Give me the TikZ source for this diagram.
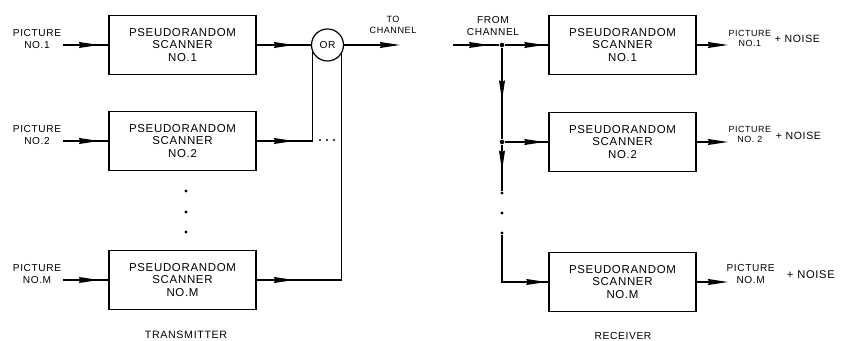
\documentclass[tikz,border=0pt]{standalone}
\usepackage{fontspec}
\setmainfont[LetterSpace=6]{Liberation Sans}
\usetikzlibrary{arrows.meta,decorations.markings}
\tikzset{
  ar/.style={postaction={decorate},decoration={markings,mark=at position #1 with {\arrow{Stealth[length=15pt,width=4.4pt,inset=1pt]}}}},
  tipar/.style={-{Stealth[length=15pt,width=4.4pt,inset=1pt]}},
  box/.style={draw,line width=1pt,minimum width=110.25pt,minimum height=44.25pt,align=center,inner sep=0pt,font=\fontsize{8.6}{9.4}\selectfont},
  lbl/.style={align=center,inner sep=1pt,font=\fontsize{7.6}{8.6}\selectfont},
  sm/.style={align=center,inner sep=0pt,font=\fontsize{6.7}{7.4}\selectfont},
  dot/.style={circle,fill,inner sep=0pt,minimum size=2.6pt},
  jn/.style={circle,fill,inner sep=0pt,minimum size=3.4pt}
}
\begin{document}
\begin{tikzpicture}[x=0.75pt,y=-0.75pt,line width=0.9pt]
\useasboundingbox (0,0) rectangle (841,341);
% transmitter
\node[box] (t1) at (182.5,45) {PSEUDORANDOM\\SCANNER\\NO.1};
\node[box] (t2) at (182.5,141) {PSEUDORANDOM\\SCANNER\\NO.2};
\node[box] (tM) at (182.5,280) {PSEUDORANDOM\\SCANNER\\NO.M};
\node[lbl] (p1) at (37,39) {PICTURE\\NO.1};
\node[lbl] (p2) at (37,135) {PICTURE\\NO.2};
\node[lbl] (pM) at (37,274) {PICTURE\\NO.M};
\draw[ar=-7pt] (p1.east |- t1.west) -- (t1.west);
\draw[ar=-7pt] (p2.east |- t2.west) -- (t2.west);
\draw[ar=-7pt] (pM.east |- tM.west) -- (tM.west);
\node[draw,circle,minimum size=24pt,inner sep=0pt,lbl] (orgate) at (327.5,45) {OR};
\coordinate (c2) at (orgate.205 |- t2.east);
\coordinate (cM) at (orgate.-33 |- tM.east);
\draw[ar=28pt] (t1.east) -- (orgate.west);
\draw[ar=28pt] (t2.east) -- (c2) -- (orgate.205);
\draw[ar=28pt] (tM.east) -- (cM) -- (orgate.-33);
\foreach \x in {320,327,334}
  \node[dot,minimum size=1.6pt] (hd\x) at (\x,140) {};
\coordinate (tx) at (400,45);
\draw[tipar] (orgate.east) -- (tx);
\node[lbl,font=\fontsize{6.8}{7.8}\selectfont] (tc) at (393,25) {TO\\CHANNEL};
\foreach \y in {191,212,232}
  \node[dot] (tv\y) at (186,\y) {};
\node[lbl,font=\fontsize{8}{9}\selectfont] (tt) at (186,335) {TRANSMITTER};
% receiver
\coordinate (rin) at (453,45);
\node[jn] (j1) at (502,45) {};
\node[jn] (j2) at (502,142) {};
\node[box] (r1) at (622.5,45) {PSEUDORANDOM\\SCANNER\\NO.1};
\node[box] (r2) at (622.5,142) {PSEUDORANDOM\\SCANNER\\NO.2};
\node[box] (rM) at (622.5,282) {PSEUDORANDOM\\SCANNER\\NO.M};
\foreach \y in {193,213,233}
  \node[dot] (rv\y) at (502,\y) {};
\coordinate (cr) at (502,282);
\node[lbl] (fc) at (493,26) {FROM\\CHANNEL};
\draw[ar=-7.5pt] (rin) -- (j1);
\draw[ar=-3pt] (j1) -- (r1.west);
\draw[ar=-29pt] (j1) -- (j2);
\draw[ar=-15pt] (j2) -- (rv193);
\draw[ar=-3pt] (j2) -- (r2.west);
\draw[ar=-1.5pt] (rv233) -- (cr) -- (rM.west);
\coordinate (o1) at (728,45);
\coordinate (o2) at (728,142);
\coordinate (oM) at (728,282);
\draw[tipar] (r1.east) -- (o1);
\draw[tipar] (r2.east) -- (o2);
\draw[tipar] (rM.east) -- (oM);
\node[sm,anchor=west] (q1) at (728,38) {PICTURE\\NO.1};
\node[sm,anchor=west] (q2) at (728,134) {PICTURE\\NO. 2};
\node[sm,anchor=west,font=\fontsize{7.6}{8.6}\selectfont] (qM) at (726,274) {PICTURE\\NO.M};
\node[lbl,anchor=west,font=\fontsize{7.9}{8}\selectfont] (n1) at (773,39) {+ NOISE};
\node[lbl,anchor=west,font=\fontsize{7.9}{8}\selectfont] (n2) at (774,136) {+ NOISE};
\node[lbl,anchor=west,font=\fontsize{8.4}{9}\selectfont] (nM) at (785,275) {+ NOISE};
\node[lbl,font=\fontsize{7.7}{9}\selectfont] (rr) at (623,336) {RECEIVER};
\end{tikzpicture}
\end{document}
